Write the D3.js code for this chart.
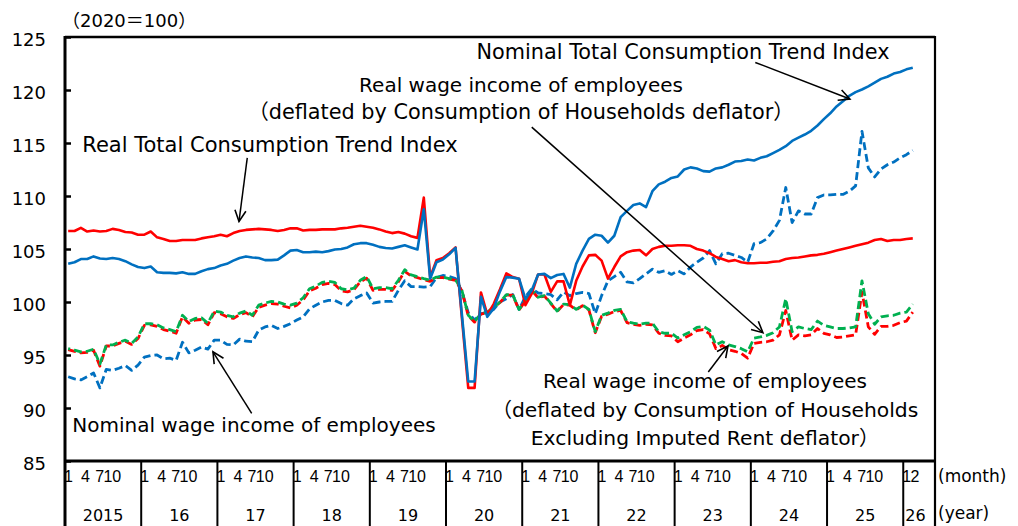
<!DOCTYPE html>
<html><head><meta charset="utf-8">
<script src="https://cdn.jsdelivr.net/npm/d3@7"></script>
<style>
body{margin:0;background:#fff}
svg{display:block}
text{font-family:"DejaVu Sans","Noto Sans CJK JP",sans-serif;fill:#000}
</style>
</head><body>
<svg id="chart" width="1018" height="526"></svg>
<script>
// ---- data (monthly, Jan 2015 .. Feb 2026) ----
const years = ["2015","16","17","18","19","20","21","22","23","24","25","26"];
const monthLabels = ["1","4","7","10"];
const lastYearMonthLabels = ["1","2"];
const yTicks = [85,90,95,100,105,110,115,120,125];
const monthsOnAxis = 137; // Jan 2015 .. May 2026 category slots

const nominalTotal = [
103.6,103.75,104.05,104.05,104.3,104.1,104.05,104.15,104.05,103.85,103.55,103.3,
103.2,103.35,102.8,102.75,102.75,102.7,102.8,102.65,102.65,102.9,103.1,103.2,
103.45,103.6,103.9,104.15,104.3,104.2,104.15,103.95,103.95,104.0,104.4,104.85,
104.9,104.7,104.7,104.75,104.7,104.8,104.95,105.0,105.15,105.45,105.55,105.55,
105.4,105.2,105.1,105.05,105.2,105.35,105.15,104.95,108.75,102.2,103.75,104.0,
104.5,105.1,98.8,92.5,92.5,100.5,98.6,99.4,101.0,102.35,102.3,102.2,
100.3,101.1,102.6,102.65,102.25,102.55,102.65,101.35,103.6,104.85,105.95,106.35,
106.25,105.6,106.25,108.0,108.6,109.15,109.3,108.95,110.45,111.1,111.35,111.7,
111.85,112.5,112.7,112.6,112.35,112.3,112.6,112.7,112.95,113.25,113.3,113.45,
113.35,113.6,113.75,114.05,114.35,114.7,115.2,115.5,115.8,116.15,116.65,117.25,
117.8,118.45,118.95,119.45,119.8,120.05,120.35,120.7,121.05,121.25,121.55,121.7,
121.95,122.1];

const realTotal = [
106.7,106.7,107.0,106.65,106.75,106.65,106.7,106.9,106.8,106.6,106.55,106.35,
106.35,106.65,106.1,105.95,105.75,105.75,105.85,105.85,105.85,106.0,106.1,106.2,
106.35,106.2,106.5,106.7,106.8,106.85,106.9,106.85,106.8,106.7,106.8,106.95,
106.95,106.75,106.8,106.8,106.85,106.85,106.85,106.95,107.0,107.1,107.2,107.1,
107.0,106.85,106.65,106.5,106.6,106.45,106.2,106.05,109.85,102.35,103.95,104.15,
104.6,105.15,98.5,91.9,91.9,100.9,98.8,99.8,101.2,102.7,102.35,102.2,
99.7,100.8,102.6,102.6,100.95,101.95,101.95,99.7,102.0,103.35,104.4,104.45,
103.9,102.2,103.3,104.3,104.7,104.85,104.9,104.4,105.0,105.2,105.3,105.3,
105.35,105.35,105.3,105.0,104.85,104.6,104.25,104.05,103.85,103.95,103.75,103.65,
103.65,103.7,103.7,103.8,103.85,104.05,104.15,104.2,104.3,104.4,104.45,104.55,
104.7,104.85,105.0,105.15,105.3,105.45,105.6,105.85,105.95,105.75,105.85,105.85,
105.95,106.0];

const nominalWage = [
92.95,92.75,92.65,92.95,93.3,91.9,93.65,93.55,93.75,94.0,93.55,94.05,
94.8,94.95,95.0,94.65,94.7,94.5,96.2,95.2,95.45,95.75,95.55,96.4,
96.4,96.0,95.95,96.5,96.3,96.25,97.35,97.65,97.8,97.5,97.7,97.95,
98.3,98.6,99.35,99.7,100.0,100.15,100.15,99.85,99.7,100.3,100.6,100.85,
99.9,100.0,100.05,100.05,101.1,102.0,101.45,101.45,101.4,101.45,102.3,102.5,
102.4,102.2,101.0,99.0,98.3,98.9,99.0,99.3,100.0,100.3,100.7,99.3,
100.5,101.25,100.85,100.8,100.7,100.2,100.95,100.6,100.8,100.9,100.8,98.9,
100.6,102.0,102.4,102.8,101.9,101.8,102.2,102.65,103.1,102.8,102.95,102.6,
102.95,102.65,103.3,103.75,104.15,104.85,103.6,104.55,104.6,104.4,104.2,103.75,
105.5,105.6,105.95,106.7,107.7,110.8,107.5,108.6,108.3,108.3,109.85,110.1,
110.1,110.15,110.15,110.45,110.95,116.1,112.65,111.8,112.55,112.95,113.2,113.6,
113.9,114.3];

const realWageHH = [
95.6,95.45,95.3,95.35,95.55,94.15,95.95,95.95,96.2,96.4,96.1,96.7,
97.95,97.95,97.85,97.55,97.4,97.2,98.75,98.15,98.45,98.5,98.0,99.15,
99.05,98.75,98.6,98.95,99.15,98.75,99.7,99.9,100.05,100.0,99.8,99.7,
99.9,100.4,101.25,101.5,101.85,101.95,101.85,101.25,101.15,101.3,102.05,102.4,
101.25,101.35,101.35,101.25,102.05,103.05,102.55,102.4,102.2,102.05,102.35,102.35,
102.2,102.1,101.1,98.75,98.15,98.9,99.05,99.5,100.0,100.7,100.7,99.3,
100.15,101.15,100.45,100.6,99.9,99.15,99.8,99.75,99.3,99.7,99.3,97.2,
98.75,98.95,99.2,99.3,98.15,98.0,97.9,98.0,98.0,97.2,97.05,97.05,
96.6,96.9,97.2,97.6,97.7,97.35,95.95,96.25,95.95,95.8,95.6,95.3,
96.6,96.7,96.85,97.1,97.65,100.3,97.2,97.65,97.5,97.4,98.2,97.8,
97.65,97.5,97.5,97.55,97.65,102.0,98.9,97.9,98.6,98.7,98.75,98.95,
99.05,99.8];

const realWageExclRent = [
95.5,95.35,95.2,95.25,95.45,93.95,95.85,95.85,96.1,96.3,96.0,96.55,
97.8,97.85,97.7,97.4,97.25,97.05,98.6,98.0,98.3,98.35,97.85,99.0,
98.9,98.6,98.45,98.8,99.0,98.6,99.5,99.7,99.85,99.8,99.6,99.45,
99.7,100.2,101.05,101.3,101.65,101.75,101.65,101.05,100.95,101.15,101.9,102.25,
101.1,101.2,101.2,101.1,101.9,102.9,102.45,102.3,102.1,101.95,102.3,102.3,
102.15,102.05,101.05,98.7,98.1,98.85,99.0,99.45,99.95,100.65,100.65,99.25,
100.1,101.1,100.4,100.55,99.85,99.1,99.75,99.7,99.25,99.65,99.25,97.1,
98.65,98.85,99.1,99.2,98.05,97.9,97.8,97.9,97.85,97.05,96.85,96.8,
96.25,96.6,96.9,97.3,97.4,97.0,95.6,95.9,95.5,95.35,95.15,94.7,
96.1,96.2,96.25,96.4,96.9,99.2,96.4,96.9,96.8,96.9,97.5,97.05,
96.9,96.65,96.7,96.8,96.9,100.95,97.65,96.95,97.7,97.7,97.8,98.05,
98.2,99.05];

// annotations: text in pixels, arrows in data space [month index, value]
const annotations = [
  {lines:["Nominal Total Consumption Trend Index"], x:683, y:59, fs:20.8, from:[108.2,122.6], to:[123.1,119.15]},
  {lines:["Real wage income of employees","（deflated by Consumption of Households deflator）"], x:521, y:92, lh:27, fs:[20,20.8], from:[73.0,116.5], to:[109.4,97.1]},
  {lines:["Real Total Consumption Trend Index"], x:270, y:152, fs:21, from:[28.2,113.6], to:[26.9,107.6]},
  {lines:["Nominal wage income of employees"], x:254, y:432, fs:20, from:[28.9,89.5], to:[22.8,95.3]},
  {lines:["Real wage income of employees","（deflated by Consumption of Households","Excluding Imputed Rent deflator）"], x:705, y:388, lh:28.5, fs:[20,20.3,20.3], from:[100.8,93.4], to:[103.9,95.85]}
];

// ---- drawing ----
const svg = d3.select('#chart');
const L=65, R=935, T=37, B=461, H=526;
const x = d3.scaleBand().domain(d3.range(monthsOnAxis)).range([L,R]);
const bw = x.bandwidth();
const xc = i => x(i) + bw/2;
const y = d3.scaleLinear().domain([85,125]).range([B,T]);

const defs = svg.append('defs');
defs.append('marker').attr('id','arr').attr('viewBox','-13 -7 15 14')
  .attr('refX',0).attr('refY',0).attr('markerWidth',15).attr('markerHeight',14)
  .attr('markerUnits','userSpaceOnUse').attr('orient','auto')
  .append('path').attr('d','M-11,-5.5 L0,0 L-11,5.5')
  .attr('fill','none').attr('stroke','#000').attr('stroke-width',1.6);

// series
const line = d3.line().x((d,i)=>xc(i)).y(d=>y(d));
const series = [
  {data:nominalWage, color:'#0070C0', dash:'8,4', off:0, w:2.8},
  {data:realWageExclRent, color:'#FF0000', dash:'8,4', off:0, w:2.8},
  {data:realWageHH, color:'#00B050', dash:'8,4', off:6, w:2.8},
  {data:realTotal, color:'#FF0000', dash:null, w:2.6},
  {data:nominalTotal, color:'#0070C0', dash:null, w:2.6}
];
svg.append('g').selectAll('path').data(series).join('path')
  .attr('d', d=>line(d.data))
  .attr('fill','none')
  .attr('stroke', d=>d.color)
  .attr('stroke-width', d=>d.w)
  .attr('stroke-linejoin','round')
  .attr('stroke-dasharray', d=>d.dash)
  .attr('stroke-dashoffset', d=>d.off||0);

// y axis
const gy = svg.append('g').attr('transform',`translate(${L},0)`)
  .call(d3.axisLeft(y).tickValues(yTicks).tickSize(-6).tickPadding(19).tickFormat(d3.format('d')));
gy.select('.domain').remove();
gy.selectAll('.tick line').attr('stroke','#000').attr('stroke-width',2.5);
gy.selectAll('.tick text').attr('font-size',18).attr('font-family','DejaVu Sans').attr('dy','0.47em').attr('fill','#000');

// frame
const frame = svg.append('g').attr('stroke','#000').attr('fill','none');
frame.append('line').attr('x1',L).attr('x2',R).attr('y1',T).attr('y2',T).attr('stroke-width',2.5);
frame.append('line').attr('x1',L-1).attr('x2',R).attr('y1',B).attr('y2',B).attr('stroke-width',3);
frame.append('line').attr('x1',L).attr('x2',L).attr('y1',T-1).attr('y2',H).attr('stroke-width',3);
frame.append('line').attr('x1',R).attr('x2',R).attr('y1',T-1).attr('y2',H).attr('stroke-width',2.2);

// x axis: year separators, month labels, year labels
const monthOffsets = [0.55, 3.23, 5.45, 7.45];
const gx = svg.append('g');
years.forEach((yr,k)=>{
  const start = x(12*k);
  const endIdx = 12*k+12;
  const end = endIdx < monthsOnAxis ? x(endIdx) : R;
  if (k>0) gx.append('line').attr('x1',start).attr('x2',start).attr('y1',B).attr('y2',H)
      .attr('stroke','#000').attr('stroke-width',2);
  const last = k===years.length-1;
  const labs = last ? lastYearMonthLabels : monthLabels;
  const offs = last ? [0.55,1.85] : monthOffsets;
  labs.forEach((m,j)=>{
    gx.append('text').attr('x', start + offs[j]*bw).attr('y',482)
      .attr('text-anchor','middle').attr('font-size',16)
      .style('font-family','"Liberation Sans Narrow","Liberation Sans",sans-serif').text(m);
  });
  gx.append('text').attr('x', last ? start+2 : (start+end)/2).attr('y',521)
    .attr('text-anchor', last ? 'start' : 'middle').attr('font-size',16).text(yr);
});
svg.append('text').attr('x',938).attr('y',482).attr('font-size',17).text('(month)');
svg.append('text').attr('x',938).attr('y',519).attr('font-size',17).text('(year)');
svg.append('text').attr('x',62).attr('y',27).attr('font-size',18).text('（2020＝100）');

// annotations
const ga = svg.append('g');
annotations.forEach(a=>{
  a.lines.forEach((t,j)=>{
    const fs = Array.isArray(a.fs) ? a.fs[j] : a.fs;
    ga.append('text').attr('x',a.x).attr('y',a.y + j*(a.lh||0))
      .attr('text-anchor','middle').attr('font-size',fs).text(t);
  });
  ga.append('line')
    .attr('x1',xc(0)+(a.from[0])*bw).attr('y1',y(a.from[1]))
    .attr('x2',xc(0)+(a.to[0])*bw).attr('y2',y(a.to[1]))
    .attr('stroke','#000').attr('stroke-width',1.5)
    .attr('marker-end','url(#arr)');
});
</script>
</body></html>
